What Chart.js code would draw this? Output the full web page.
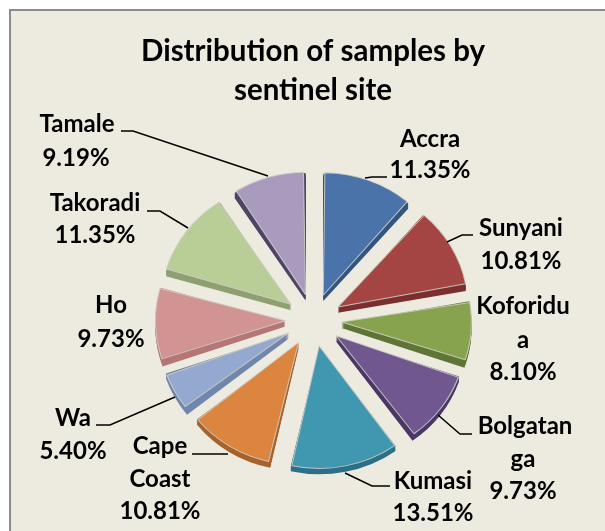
<!DOCTYPE html>
<html><head><meta charset="utf-8">
<style>
html,body{margin:0;padding:0;background:#fff}
#frame{position:absolute;left:9px;top:9px;width:596px;height:522px;box-sizing:border-box;border-left:2px solid #8c8c8c;border-top:2px solid #8c8c8c;background:#edebe0}
#wrap{position:absolute;left:0;top:0;width:605px;height:531px}
</style>
<script src="https://cdn.jsdelivr.net/npm/chart.js@4"></script>
</head><body>
<div id="frame"></div>
<div id="wrap"><canvas id="c" width="605" height="531"></canvas></div>
<script>
const sites=["Accra","Sunyani","Koforidua","Bolgatanga","Kumasi","Cape Coast","Wa","Ho","Takoradi","Tamale"];
const shares=[11.35,10.81,8.10,9.73,13.51,10.81,5.40,9.73,11.35,9.19];
const colors=["#4a73a9","#a44543","#88a34e","#71578f","#4098b0","#db853f","#93a9d0","#d19493","#b9cd97","#a99bbe"];
const sideColors=["#345480","#7a2f2e","#5f7535","#4a3766","#2b7088","#a8612a","#7186ad","#b57675","#8fa070","#4f4468"];
const titleLines=["Distribution of samples by","sentinel site"];
// label text, with the wrapped lines of the reference: [text, centre x, centre y]
const labelText=[
["Accra",430,139],["11.35%",430,170],
["Sunyani",521,228],["10.81%",521,261],
["Koforidu",523,306],["a",523,340],["8.10%",523,372],
["Bolgatan",525,426],["ga",523,459],["9.73%",523,491],
["Kumasi",433,481],["13.51%",433,513],
["Cape",160,446],["Coast",160,479],["10.81%",160,511],
["Wa",73,418],["5.40%",73,451],
["Ho",111,305],["9.73%",111,339],
["Takoradi",95,203],["11.35%",95,235],
["Tamale",77,124],["9.19%",76,158]];
const leaders=[
[[121,131],[133,131],[268,176]],
[[365,178],[372,177],[387,177]],
[[447,242],[462,235],[473,235]],
[[438,415],[460,434],[472,434]],
[[345,473],[372,486],[390,486]],
[[228,454],[192,454]],
[[175,397],[110,425],[96,425]],
[[188,228],[160,211],[147,211]]];
const depth=6, pieRadius=125, explode=27, tiltX=1.04, tiltY=0.98, nudgeX=0.5, nudgeY=-1.5;
// Chart.js draws an offset arc shifted by offset/4 and enlarged by a factor of its sweep; undo the enlargement
const evenRadius={
  id:'evenRadius',
  afterDatasetsUpdate(chart){
    chart.getDatasetMeta(0).data.forEach(arc=>{
      const sweep=arc.endAngle-arc.startAngle;
      arc.outerRadius=pieRadius-explode*(1-Math.sin(Math.min(Math.PI,sweep)));
    });
  }
};
const sideWalls={
  id:'sideWalls',
  beforeDatasetsDraw(chart){
    const ctx=chart.ctx, first=chart.getDatasetMeta(0).data[0];
    // slight perspective: the reference pie is a little wider than tall
    ctx.save();
    ctx.translate(first.x+nudgeX,first.y+nudgeY);
    ctx.scale(tiltX,tiltY);
    ctx.translate(-first.x,-first.y);
    chart.getDatasetMeta(0).data.forEach((arc,i)=>{
      const mid=(arc.startAngle+arc.endAngle)/2;
      const cx=arc.x+Math.cos(mid)*explode, cy=arc.y+Math.sin(mid)*explode;
      ctx.fillStyle=sideColors[i];
      for(let d=1;d<=depth;d++){
        ctx.beginPath();
        ctx.moveTo(cx,cy+d);
        ctx.arc(cx,cy+d,pieRadius,arc.startAngle,arc.endAngle);
        ctx.closePath();
        ctx.fill();
      }
    });
  },
  afterDatasetsDraw(chart){chart.ctx.restore();}
};
const callouts={
  id:'callouts',
  afterDraw(chart){
    const ctx=chart.ctx;
    ctx.save();
    ctx.strokeStyle='#000';ctx.lineWidth=1.5;
    leaders.forEach(l=>{
      ctx.beginPath();
      l.forEach((q,i)=>i?ctx.lineTo(q[0],q[1]):ctx.moveTo(q[0],q[1]));
      ctx.stroke();
    });
    ctx.fillStyle='#000';ctx.font='bold 24px Lato';ctx.textAlign='center';ctx.textBaseline='middle';
    labelText.forEach(t=>ctx.fillText(t[0],t[1],t[2]));
    ctx.restore();
  }
};
new Chart(document.getElementById('c'),{
  type:'pie',
  data:{labels:sites,datasets:[{
    data:shares,backgroundColor:colors,borderColor:'rgba(205,205,195,0.9)',borderWidth:1,
    offset:explode*4,radius:pieRadius
  }]},
  options:{
    responsive:false,animation:false,
    layout:{padding:{left:21,right:0,top:0,bottom:4}},
    plugins:{
      legend:{display:false},tooltip:{enabled:false},
      title:{display:true,text:titleLines,color:'#000',font:{family:'Lato',weight:'bold',size:29.5,lineHeight:39/29.5},padding:{top:32,bottom:6}}
    }
  },
  plugins:[evenRadius,sideWalls,callouts]
});
</script>
</body></html>
